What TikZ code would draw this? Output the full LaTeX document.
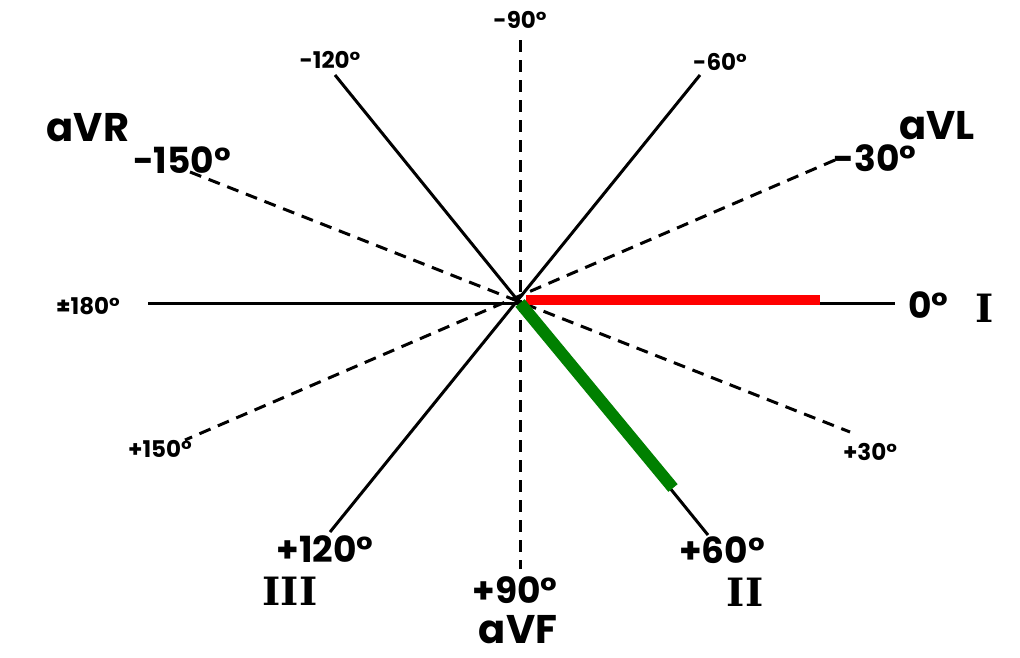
\documentclass[tikz,border=0pt]{standalone}
\usepackage{fontspec}
\setmainfont{Poppins}
\newfontfamily\romfont[BoldFont={DejaVu Serif Bold}]{DejaVu Serif}
\begin{document}
\begin{tikzpicture}[x=1pt,y=-1pt,
  axis/.style={line width=3pt,black},
  dashaxis/.style={line width=3pt,black,dash pattern=on 12pt off 8pt},
  big/.style={font=\bfseries\fontsize{36}{38}\selectfont,inner sep=0pt},
  lead/.style={font=\bfseries\fontsize{40}{42}\selectfont,inner sep=0pt},
  small/.style={font=\bfseries\fontsize{23}{25}\selectfont,inner sep=0pt},
  roman/.style={font=\romfont\bfseries\fontsize{39}{40}\selectfont,inner sep=0pt}]
\useasboundingbox (0,0) rectangle (1020,657);
\fill[white] (0,0) rectangle (1020,657);
\coordinate (O) at (520,303);
% ends
\coordinate (e0) at (895,303);
\coordinate (e180) at (148,303);
\coordinate (em90) at (520,40);
\coordinate (ep90) at (520,569);
\coordinate (em60) at (700,75);
\coordinate (ep120) at (330,532);
\coordinate (em120) at (335,75);
\coordinate (ep60) at (708,535);
\coordinate (em150) at (190,172);
\coordinate (ep30) at (850,432);
\coordinate (em30) at (835,160);
\coordinate (ep150) at (185,440);
% axes
\draw[axis] (e180) -- (e0);
\draw[axis] (em60) -- (ep120);
\draw[axis] (em120) -- (ep60);
\draw[dashaxis] (em90) -- (ep90);
\draw[dashaxis] (em150) -- (ep30);
\draw[dashaxis] (em30) -- (ep150);
% vectors
\coordinate (r0) at (526,300);
\coordinate (r1) at (820,300);
\draw[line width=10pt,red] (r0) -- (r1);
\coordinate (g1) at (673,488);
\draw[line width=12pt,green!50!black] (O) -- (g1);
% labels
\node[small] (lm90) at (520,20) {-90°};
\node[small] (lm120) at (330,60) {-120°};
\node[small] (lm60) at (720,62) {-60°};
\node[lead] (laVR) at (88,128) {aVR};
\node[big] (lm150) at (182,160) {-150°};
\node[lead] (laVL) at (937,126) {aVL};
\node[big] (lm30) at (875,158) {-30°};
\node[small] (l180) at (88,306) {±180°};
\node[big,anchor=west] (l0) at (908,305) {0°};
\node[roman] (lI) at (985,308) {I};
\node[small] (lp150) at (160,449) {+150°};
\node[small] (lp30) at (870,452) {+30°};
\node[big] (lp120) at (325,549) {+120°};
\node[roman] (lIII) at (290,591) {III};
\node[big] (lp90) at (515,590) {+90°};
\node[lead] (laVF) at (518,630) {aVF};
\node[big] (lp60) at (722,550) {+60°};
\node[roman] (lII) at (745,592) {II};
\end{tikzpicture}
\end{document}
